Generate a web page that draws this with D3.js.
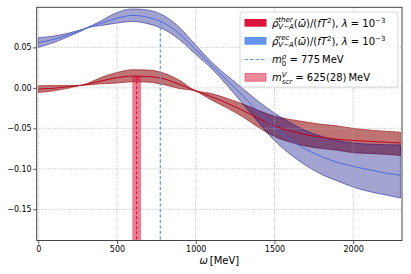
<!DOCTYPE html>
<html>
<head>
<meta charset="utf-8">
<script src="https://cdn.jsdelivr.net/npm/d3@7"></script>
<style>
  body { margin: 0; background: #fff; }
  text { font-family: "DejaVu Sans", sans-serif; fill: #000; white-space: pre; }
</style>
</head>
<body>
<div id="chart"></div>
<script>
// omega grid in MeV
const omega = [0, 100, 200, 265, 315, 400, 500, 600, 700, 800, 900, 990, 1100, 1200, 1300, 1400, 1500, 1600, 1700, 1800, 1900, 2000, 2100, 2200, 2300];

// reconstructed (rec) spectral function, centre and band
const recMid = [0.056, 0.060, 0.066, 0.0705, 0.0745, 0.080, 0.086, 0.0895, 0.087, 0.080, 0.066, 0.049, 0.028, 0.009, -0.010, -0.030, -0.049, -0.064, -0.076, -0.085, -0.092, -0.097, -0.101, -0.105, -0.108];
const recUp  = [0.062, 0.064, 0.068, 0.0715, 0.0748, 0.083, 0.093, 0.0975, 0.096, 0.089, 0.074, 0.055, 0.032, 0.015, -0.001, -0.017, -0.031, -0.043, -0.053, -0.060, -0.065, -0.068, -0.0695, -0.0702, -0.0705];
const recLo  = [0.050, 0.056, 0.064, 0.0695, 0.0742, 0.077, 0.080, 0.082, 0.079, 0.072, 0.059, 0.043, 0.024, 0.003, -0.020, -0.043, -0.065, -0.082, -0.096, -0.107, -0.115, -0.1225, -0.128, -0.132, -0.136];

// thermal (ther) spectral function, centre and band
const therMid = [-0.0016, -0.0004, 0.0015, 0.003, 0.0047, 0.0085, 0.0125, 0.0145, 0.014, 0.011, 0.004, -0.003, -0.011, -0.019, -0.028, -0.038, -0.047, -0.053, -0.058, -0.061, -0.0635, -0.065, -0.066, -0.067, -0.068];
const therUp  = [0.0025, 0.0028, 0.003, 0.0031, 0.0058, 0.013, 0.019, 0.0225, 0.022, 0.018, 0.009, -0.0025, -0.007, -0.013, -0.020, -0.028, -0.035, -0.039, -0.042, -0.045, -0.047, -0.050, -0.052, -0.0535, -0.0547];
const therLo  = [-0.0058, -0.0036, 0.0, 0.0029, 0.0036, 0.005, 0.006, 0.0075, 0.007, 0.004, -0.001, -0.0035, -0.015, -0.025, -0.036, -0.049, -0.060, -0.067, -0.072, -0.075, -0.077, -0.080, -0.081, -0.082, -0.0835];

const mRho = 775;
const mScr = 625, mScrErr = 28;

const xTicks = [0, 500, 1000, 1500, 2000];
const yTicks = [-0.15, -0.10, -0.05, 0.00, 0.05];

const W = 411, H = 274;
const svg = d3.select("#chart").append("svg").attr("width", W).attr("height", H);

const x = d3.scaleLinear().domain([-10, 2310]).range([36.7, 402]);
const y = d3.scaleLinear().domain([-0.1885, 0.0995]).range([240.5, 7.3]);

const plot = svg.append("g");
plot.append("defs").append("clipPath").attr("id", "clip")
  .append("rect").attr("x", 36.7).attr("y", 7.3).attr("width", 402 - 36.7).attr("height", 240.5 - 7.3);
const inner = plot.append("g").attr("clip-path", "url(#clip)");

const rows = (lo, mid, up) => omega.map((w, i) => ({ w, lo: lo[i], mid: mid[i], up: up[i] }));
const therRows = rows(therLo, therMid, therUp);
const recRows = rows(recLo, recMid, recUp);

const area = d3.area().x(d => x(d.w)).y0(d => y(d.lo)).y1(d => y(d.up)).curve(d3.curveMonotoneX);
const line = d3.line().x(d => x(d.w)).y(d => y(d.mid)).curve(d3.curveMonotoneX);

// bands
inner.append("path").datum(therRows).attr("d", area)
  .attr("fill", "#8b0000").attr("fill-opacity", 0.55)
  .attr("stroke", "#8b0000").attr("stroke-opacity", 0.7).attr("stroke-width", 0.8);
inner.append("path").datum(recRows).attr("d", area)
  .attr("fill", "#000080").attr("fill-opacity", 0.36)
  .attr("stroke", "#000080").attr("stroke-opacity", 0.6).attr("stroke-width", 0.8);

// grid
inner.selectAll(".gx").data(xTicks).enter().append("line")
  .attr("x1", d => x(d)).attr("x2", d => x(d)).attr("y1", 7.3).attr("y2", 240.5)
  .attr("stroke", "#b0b0b0").attr("stroke-width", 0.7).attr("stroke-dasharray", "1,1.3");
inner.selectAll(".gy").data(yTicks).enter().append("line")
  .attr("x1", 36.7).attr("x2", 402).attr("y1", d => y(d)).attr("y2", d => y(d))
  .attr("stroke", "#b0b0b0").attr("stroke-width", 0.7).attr("stroke-dasharray", "1,1.3");

// screening mass bar
const interp = (arr, w) => {
  const i = d3.bisectLeft(omega, w);
  const t = (w - omega[i - 1]) / (omega[i] - omega[i - 1]);
  return arr[i - 1] + t * (arr[i] - arr[i - 1]);
};
const barTop = interp(therMid, mScr);
inner.append("rect")
  .attr("x", x(mScr - mScrErr)).attr("width", x(mScr + mScrErr) - x(mScr - mScrErr))
  .attr("y", y(barTop)).attr("height", y.range()[0] - y(barTop))
  .attr("fill", "#dc143c").attr("fill-opacity", 0.55);
inner.append("line")
  .attr("x1", x(mScr)).attr("x2", x(mScr)).attr("y1", y(barTop)).attr("y2", y.range()[0])
  .attr("stroke", "#dc143c").attr("stroke-width", 1.2).attr("stroke-dasharray", "3,2");

// centre lines
inner.append("path").datum(therRows).attr("d", line)
  .attr("fill", "none").attr("stroke", "#c0001e").attr("stroke-width", 1);
inner.append("path").datum(recRows).attr("d", line)
  .attr("fill", "none").attr("stroke", "#3f66dd").attr("stroke-width", 0.9);

// rho mass
const rhoTop = interp(recMid, mRho);
inner.append("line")
  .attr("x1", x(mRho)).attr("x2", x(mRho)).attr("y1", y(rhoTop)).attr("y2", y.range()[0])
  .attr("stroke", "#6495ed").attr("stroke-width", 1.2).attr("stroke-dasharray", "3.5,2");

// axes
const xAxis = svg.append("g").attr("transform", "translate(0,240.5)")
  .call(d3.axisBottom(x).tickValues(xTicks).tickSize(3.5).tickPadding(2).tickFormat(d3.format("d")));
const yAxis = svg.append("g").attr("transform", "translate(36.7,0)")
  .call(d3.axisLeft(y).tickValues(yTicks).tickSize(3.5).tickPadding(1.5).tickFormat(d3.format(".2f")));
[xAxis, yAxis].forEach(a => {
  a.select(".domain").remove();
  a.selectAll(".tick line").attr("stroke", "#333").attr("stroke-width", 0.8);
  a.selectAll(".tick text").attr("font-family", "DejaVu Sans").attr("font-size", 8).attr("fill", "#000");
});

svg.append("rect").attr("x", 36.7).attr("y", 7.3).attr("width", 402 - 36.7).attr("height", 240.5 - 7.3)
  .attr("fill", "none").attr("stroke", "#333").attr("stroke-width", 0.9);

// small mathtext layout helper
function mathText(g, x0, y0, tokens, fs) {
  let cx = x0;
  const put = (str, italic, size, dy) => {
    const t = g.append("text").attr("x", cx).attr("y", y0 + dy)
      .attr("font-size", size).attr("font-style", italic ? "italic" : "normal").text(str);
    return t.node().getComputedTextLength();
  };
  tokens.forEach(tk => {
    const k = tk[0];
    if (k === "i") cx += put(tk[1], true, fs, 0);
    else if (k === "r") cx += put(tk[1], false, fs, 0);
    else if (k === "sup") cx += put(tk[1], false, fs * 0.7, -fs * 0.4);
    else if (k === "ss") {
      const w1 = put(tk[1], tk[3] !== false, fs * 0.7, -fs * 0.42);
      const w2 = put(tk[2], tk[4] !== false, fs * 0.7, fs * 0.28);
      cx += Math.max(w1, w2);
    }
  });
  return cx;
}

// x label
const xl = svg.append("g");
const xlEnd = mathText(xl, 0, 264, [["i", "ω"], ["r", "\u2009[MeV]"]], 10);
xl.attr("transform", `translate(${(36.7 + 402) / 2 - xlEnd / 2},0)`);

// legend
const leg = svg.append("g");
leg.append("rect").attr("x", 240).attr("y", 12).attr("width", 158).attr("height", 75).attr("rx", 3)
  .attr("fill", "#fff").attr("fill-opacity", 0.85).attr("stroke", "#d0d0d0").attr("stroke-width", 0.8);
const rowY = [23, 41, 59.5, 77.5];
const fs = 10;
leg.append("rect").attr("x", 244.5).attr("y", rowY[0] - 4).attr("width", 22).attr("height", 7.7).attr("fill", "#dc143c");
leg.append("rect").attr("x", 244.5).attr("y", rowY[1] - 4).attr("width", 22).attr("height", 7.7).attr("fill", "#6495ed");
leg.append("line").attr("x1", 244.5).attr("x2", 266.5).attr("y1", rowY[2]).attr("y2", rowY[2])
  .attr("stroke", "#6495ed").attr("stroke-width", 1.2).attr("stroke-dasharray", "3.5,2");
leg.append("rect").attr("x", 245).attr("y", rowY[3] - 4).attr("width", 21).attr("height", 7.7)
  .attr("fill", "#dc143c").attr("fill-opacity", 0.5).attr("stroke", "#dc143c").attr("stroke-opacity", 0.6).attr("stroke-width", 0.8);

const rhoLabel = (tag) => [["i", "ρ\u0302"], ["ss", tag, "V−A"], ["r", "("], ["i", "ω\u0304"], ["r", ")/("], ["i", "fT"],
  ["sup", "2"], ["r", "), "], ["i", "λ"], ["r", " = 10"], ["sup", "−3"]];
mathText(leg, 272, rowY[0] + 3.6, rhoLabel("ther"), fs);
mathText(leg, 272, rowY[1] + 3.6, rhoLabel("rec"), fs);
mathText(leg, 272, rowY[2] + 3.6, [["i", "m"], ["ss", "ρ", "0", true, false], ["r", " = " + mRho + "\u2009MeV"]], fs);
mathText(leg, 272, rowY[3] + 3.6, [["i", "m"], ["ss", "V", "scr"], ["r", " = " + mScr + "(" + mScrErr + ")\u2009MeV"]], fs);
</script>
</body>
</html>
